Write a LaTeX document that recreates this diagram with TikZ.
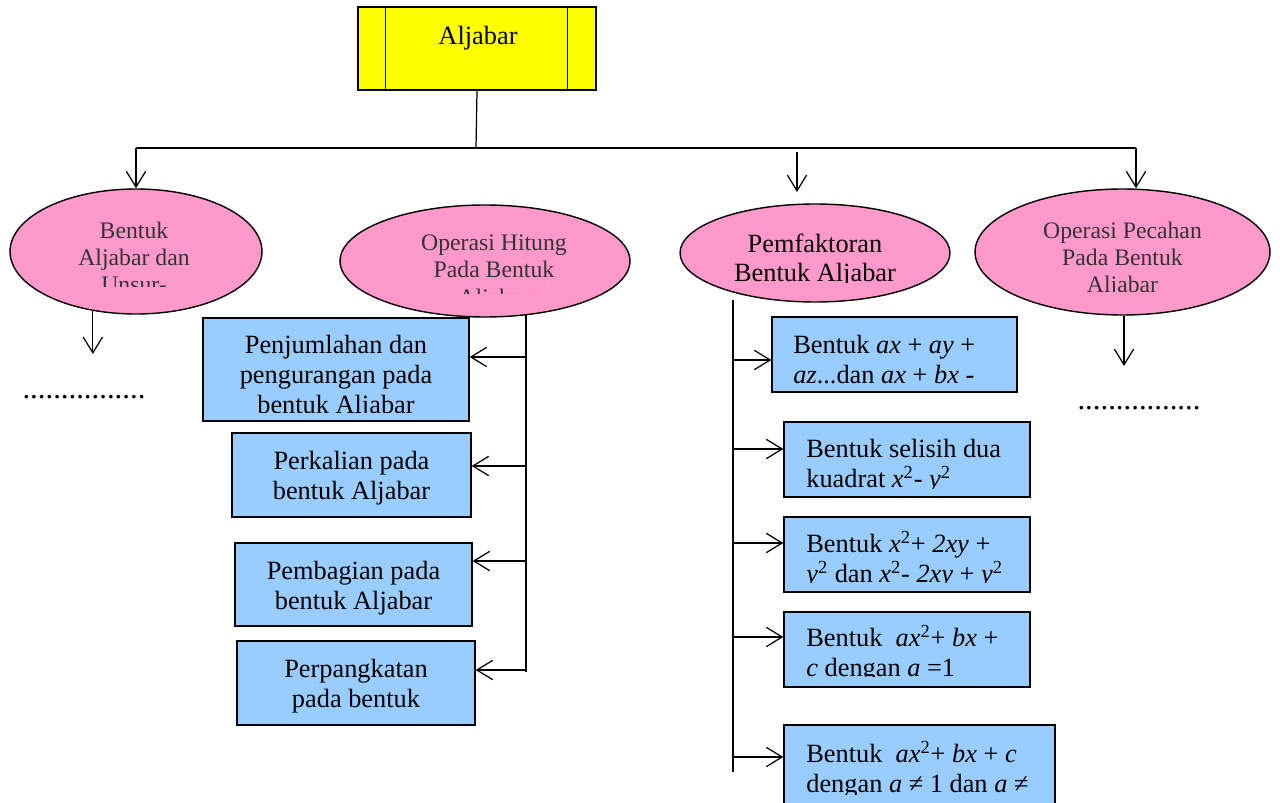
\documentclass[tikz,border=0pt]{standalone}
\usepackage{fontspec}
\setmainfont{Liberation Serif}
\usetikzlibrary{arrows.meta,shapes.geometric}
\definecolor{kuning}{HTML}{FFFF00}
\definecolor{merahmuda}{HTML}{FF99CC}
\definecolor{birumuda}{HTML}{99CCFF}
\tikzset{
  judul/.style={draw, fill=kuning, line width=0.8pt, inner sep=0pt, minimum width=4.76cm, minimum height=1.66cm},
  elips/.style={ellipse, draw, fill=merahmuda, line width=0.8pt, inner sep=0pt},
  kotak/.style={draw, fill=birumuda, line width=0.8pt, inner sep=0pt},
  teks/.style={align=center, inner sep=0pt, font=\fontsize{15}{17}\selectfont},
  teksel/.style={align=center, inner sep=0pt, text=black!80, font=\fontsize{13.5}{15.5}\selectfont},
  tekskiri/.style={align=left, anchor=west, inner sep=0pt, font=\fontsize{15}{17}\selectfont},
  titik/.style={inner sep=0pt, font=\fontsize{17.5}{20}\selectfont},
  garis/.style={line width=0.7pt},
  panah/.style={-{Straight Barb[length=9pt,width=11pt]}, line width=0.7pt},
}
\begin{document}
\begin{tikzpicture}[x=0.02cm,y=-0.02cm]
\useasboundingbox (0,0) rectangle (1280,803);

% puncak
\node[judul] (aljabar) at (477,48.5) {};
\draw[line width=0.8pt] ([xshift=0.56cm]aljabar.north west) -- ([xshift=0.56cm]aljabar.south west);
\draw[line width=0.8pt] ([xshift=-0.58cm]aljabar.north east) -- ([xshift=-0.58cm]aljabar.south east);
\node[teks] (aljabar-t) at (478,38) {Aljabar};

% elips
\node[elips, minimum width=5.04cm, minimum height=2.5cm] (bentuk) at (136,251.5) {};
\node[elips, minimum width=5.8cm, minimum height=2.24cm] (hitung) at (485,261) {};
\node[elips, minimum width=5.4cm, minimum height=1.96cm] (faktor) at (815,253) {};
\node[elips, minimum width=5.9cm, minimum height=2.52cm] (pecahan) at (1122.5,252) {};
\begin{scope}
  \clip (10,200) rectangle (262,287);
  \node[teksel] (bentuk-t) at (134,257.5) {Bentuk\\Aljabar dan\\Unsur-};
\end{scope}
\begin{scope}
  \clip (340,215) rectangle (630,294);
  \node[teksel] (hitung-t) at (494,272.5) {Operasi Hitung\\Pada Bentuk\\Aljabar};
\end{scope}
\begin{scope}
  \clip (680,215) rectangle (950,283);
  \node[teks, font=\fontsize{15}{16.5}\selectfont] (faktor-t) at (815,260.5) {Pemfaktoran\\Bentuk Aljabar};
\end{scope}
\begin{scope}
  \clip (975,200) rectangle (1270,292);
  \node[teksel] (pecahan-t) at (1122.5,260) {Operasi Pecahan\\Pada Bentuk\\Aljabar};
\end{scope}

% kotak kiri
\node[kotak, minimum width=5.32cm, minimum height=2.06cm] (tambah) at (336,369.5) {};
\node[kotak, minimum width=4.78cm, minimum height=1.68cm] (kali) at (351.5,475) {};
\node[kotak, minimum width=4.74cm, minimum height=1.66cm] (bagi) at (353.5,584.5) {};
\node[kotak, minimum width=4.76cm, minimum height=1.68cm] (pangkat) at (356,683) {};
\begin{scope}
  \clip (203,318) rectangle (469,412);
  \node[teks] (tambah-t) at (336,377) {Penjumlahan dan\\pengurangan pada\\bentuk Aljabar};
\end{scope}
\node[teks] (kali-t) at (351.5,478) {Perkalian pada\\bentuk Aljabar};
\node[teks] (bagi-t) at (353.5,588) {Pembagian pada\\bentuk Aljabar};
\node[teks] (pangkat-t) at (356,686) {Perpangkatan\\pada bentuk};

% kotak kanan
\node[kotak, minimum width=4.9cm, minimum height=1.5cm] (faktorA) at (894.5,354.5) {};
\node[kotak, minimum width=4.92cm, minimum height=1.5cm] (faktorB) at (907,459.5) {};
\node[kotak, minimum width=4.92cm, minimum height=1.5cm] (faktorC) at (907,554.5) {};
\node[kotak, minimum width=4.92cm, minimum height=1.5cm] (faktorD) at (907,649.5) {};
\node[kotak, minimum width=5.42cm, minimum height=1.8cm] (faktorE) at (919.5,770) {};
\begin{scope}
  \clip (772,317) rectangle (1017,390);
  \node[tekskiri] (faktorA-t) at (793,359.5) {Bentuk \textit{ax} + \textit{ay} +\\\textit{az}...dan \textit{ax} + \textit{bx} -};
\end{scope}
\begin{scope}
  \clip (784,422) rectangle (1030,488);
  \node[tekskiri] (faktorB-t) at (806,466) {Bentuk selisih dua\\kuadrat \textit{x}\textsuperscript{2}- \textit{y}\textsuperscript{2}};
\end{scope}
\begin{scope}
  \clip (784,517) rectangle (1030,582);
  \node[tekskiri] (faktorC-t) at (806,560) {Bentuk \textit{x}\textsuperscript{2}+ \textit{2xy} +\\\textit{y}\textsuperscript{2} dan \textit{x}\textsuperscript{2}- \textit{2xy} + \textit{y}\textsuperscript{2}};
\end{scope}
\begin{scope}
  \clip (784,612) rectangle (1030,676);
  \node[tekskiri] (faktorD-t) at (806,654) {Bentuk\ \ \textit{ax}\textsuperscript{2}+ \textit{bx} +\\\textit{c} dengan \textit{a} =1};
\end{scope}
\begin{scope}
  \clip (784,725) rectangle (1055,794);
  \node[tekskiri] (faktorE-t) at (806,769.5) {Bentuk\ \ \textit{ax}\textsuperscript{2}+ \textit{bx} + \textit{c}\\dengan \textit{a} ≠ 1 dan \textit{a} ≠};
\end{scope}

% titik-titik
\node[titik] (lanjutA-t) at (84,397) {................};
\node[titik] (lanjutB-t) at (1139,408) {................};

% penghubung atas
\coordinate (tengah) at (476,148);
\coordinate (kiri) at (136,148);
\coordinate (kanan) at (1136,148);
\coordinate (atasC) at (797,152);
\coordinate (ujungC) at (797,192);
\draw[garis] (aljabar.south) -- (tengah);
\draw[garis] (kiri) -- (kanan);
\draw[panah] (kiri) -- (bentuk.north);
\draw[panah] (atasC) -- (ujungC);
\draw[panah] (kanan) -- (kanan |- pecahan.north);

% ke bawah
\coordinate (lanjutA) at (93,354);
\coordinate (lanjutB) at (1124,366);
\draw[panah] (bentuk.234) -- (bentuk.234 |- lanjutA);
\draw[panah] (lanjutB |- pecahan.south) -- (lanjutB);

% cabang kiri
\coordinate (cabangB) at (525,672);
\draw[garis] (hitung.-53) -- (hitung.-53 |- cabangB);
\foreach \k/\s in {tambah/0.25, kali/0.18, bagi/0.47, pangkat/0.26}{
  \coordinate (\k-in) at ([yshift=\s cm]\k.east);
  \draw[panah] (cabangB |- \k-in) -- (\k-in);
}

% cabang kanan
\coordinate (cabangC) at (733,300);
\coordinate (cabangD) at (733,772);
\draw[garis] (cabangC) -- (cabangD);
\foreach \k/\s in {faktorA/-0.11, faktorB/0.21, faktorC/0.23, faktorD/0.25, faktorE/0.26}{
  \coordinate (\k-in) at ([yshift=\s cm]\k.west);
  \draw[panah] (cabangC |- \k-in) -- (\k-in);
}
\end{tikzpicture}
\end{document}
